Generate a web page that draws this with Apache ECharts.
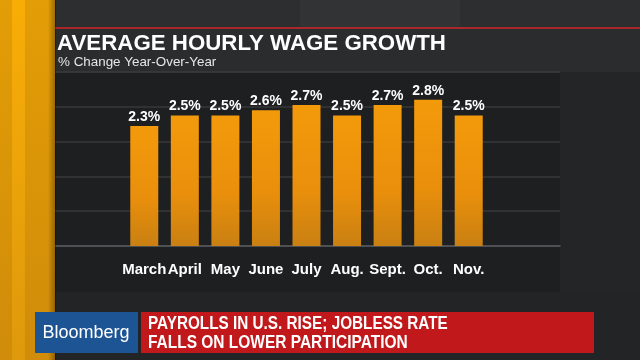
<!DOCTYPE html>
<html><head><meta charset="utf-8">
<script src="https://cdn.jsdelivr.net/npm/echarts@6/dist/echarts.min.js"></script>
<style>html,body{margin:0;padding:0;background:#232426;}#c{width:640px;height:360px;}</style>
</head><body><div id="c"></div>
<script>
var categories = ['March','April','May','June','July','Aug.','Sept.','Oct.','Nov.'];
var wageGrowth = [2.3, 2.5, 2.5, 2.6, 2.7, 2.5, 2.7, 2.8, 2.5];
var titleText = 'AVERAGE HOURLY WAGE GROWTH';
var subtitleText = '% Change Year-Over-Year';
var bannerBrand = 'Bloomberg';
var bannerLines = ['PAYROLLS IN U.S. RISE; JOBLESS RATE', 'FALLS ON LOWER PARTICIPATION'];

var chart = echarts.init(document.getElementById('c'), null, {renderer:'canvas'});
var F = 'Liberation Sans, Arial, sans-serif';
var yMax = 10/3, yInt = 2/3;
chart.setOption({
  backgroundColor: '#232426',
  animation: false,
  graphic: [
    {type:'rect', z:0, shape:{x:0,y:0,width:640,height:28}, style:{fill:'#2c2e30'}},
    {type:'rect', z:0, shape:{x:300,y:0,width:160,height:28}, style:{fill:'#313335'}},
    {type:'rect', z:0, shape:{x:560,y:72,width:80,height:220}, style:{fill:'#242527'}},
    {type:'rect', z:0, shape:{x:53,y:27,width:587,height:2}, style:{fill:'#a8282a'}},
    {type:'rect', z:0, shape:{x:53,y:29,width:587,height:43}, style:{fill:'#2a2c2e'}},
    {type:'rect', z:0, shape:{x:55,y:72,width:505,height:220}, style:{fill:'#1e1f21'}},
    {type:'rect', z:1, shape:{x:0,y:0,width:55,height:360}, style:{fill:new echarts.graphic.LinearGradient(0,0,0,1,[{offset:0,color:'#e39d06'},{offset:1,color:'#d08c0a'}])}},
    {type:'rect', z:1, shape:{x:12,y:0,width:13,height:360}, style:{fill:new echarts.graphic.LinearGradient(0,0,0,1,[{offset:0,color:'#f8ad06'},{offset:1,color:'#de990c'}])}},
    {type:'rect', z:1, shape:{x:48,y:0,width:8,height:360}, style:{fill:new echarts.graphic.LinearGradient(0,0,1,0,[{offset:0,color:'rgba(0,0,0,0)'},{offset:1,color:'rgba(0,0,0,0.35)'}])}},
    {type:'text', z:5, style:{x:57,y:44,text:titleText,fill:'#ffffff',font:'bold 22.3px '+F,textVerticalAlign:'middle'}},
    {type:'text', z:5, style:{x:58,y:62,text:subtitleText,fill:'#e6e6e6',font:'13.4px '+F,textVerticalAlign:'middle'}},
    {type:'rect', z:5, shape:{x:35,y:312,width:103,height:41}, style:{fill:'#1d5494'}},
    {type:'rect', z:5, shape:{x:141,y:312,width:453,height:41}, style:{fill:'#c1191b'}},
    {type:'text', z:6, style:{x:86,y:333,text:bannerBrand,fill:'#ffffff',font:'18px '+F,textAlign:'center',textVerticalAlign:'middle'}},
    {type:'text', z:6, x:148, y:324, scaleX:0.85, style:{x:0,y:0,text:bannerLines[0],fill:'#ffffff',font:'bold 18px '+F,textVerticalAlign:'middle'}},
    {type:'text', z:6, x:148, y:343, scaleX:0.86, style:{x:0,y:0,text:bannerLines[1],fill:'#ffffff',font:'bold 18px '+F,textVerticalAlign:'middle'}}
  ],
  grid: [
    {left:55, right:80, top:72, bottom:114},
    {left:124, right:151, top:72, bottom:114}
  ],
  xAxis: [
    {gridIndex:0, type:'value', min:0, max:1, axisLabel:{show:false}, axisTick:{show:false}, splitLine:{show:false}, axisLine:{show:true, lineStyle:{color:'#5a5b5d', width:1.5}}},
    {gridIndex:1, type:'category', data:categories, axisLine:{show:false}, axisTick:{show:false},
     axisLabel:{color:'#ffffff', fontSize:15, fontFamily:F, fontWeight:'bold', margin:16, interval:0}}
  ],
  yAxis: [
    {gridIndex:0, type:'value', min:0, max:yMax, interval:yInt, axisLabel:{show:false}, axisLine:{show:false}, axisTick:{show:false}, splitLine:{show:true, lineStyle:{color:'#38393b', width:1.5}}},
    {gridIndex:1, type:'value', min:0, max:yMax, interval:yInt, show:false, splitLine:{show:false}}
  ],
  series: [{
    type:'bar', xAxisIndex:1, yAxisIndex:1, data:wageGrowth, barWidth:28,
    itemStyle:{color:new echarts.graphic.LinearGradient(0,0,0,1,[{offset:0,color:'#f39a0b'},{offset:0.6,color:'#e98f0c'},{offset:1,color:'#c98012'}])},
    label:{show:true, position:'top', distance:2, color:'#ffffff', fontSize:14, fontWeight:'bold', fontFamily:F,
      formatter:function(p){return p.value.toFixed(1)+'%';}}
  }]
});
</script></body></html>
